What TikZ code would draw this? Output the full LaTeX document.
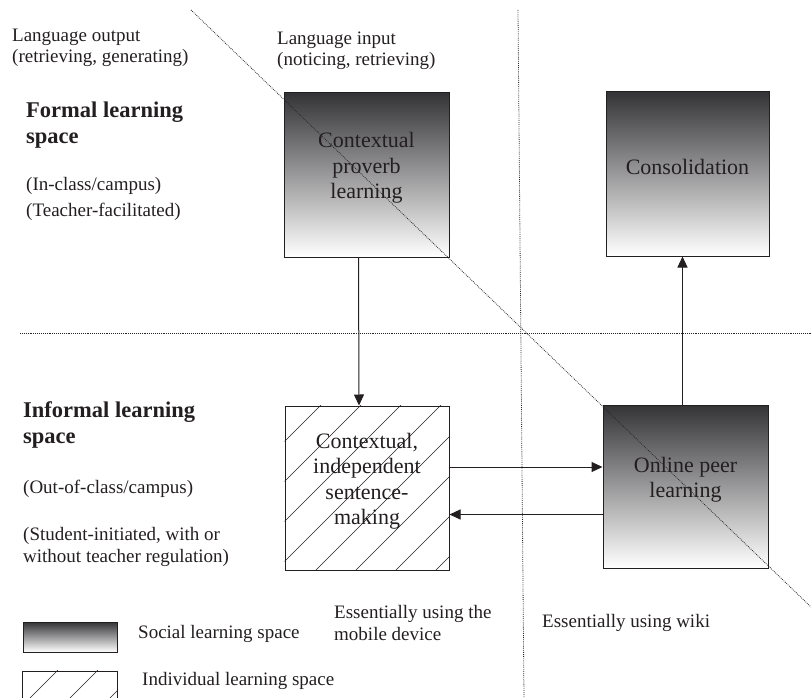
\documentclass[tikz,border=0pt]{standalone}
\usepackage{fontspec}
\setmainfont{Liberation Serif}
\usetikzlibrary{arrows.meta}

\definecolor{gradtop}{RGB}{52,52,55}
\definecolor{inkgray}{RGB}{35,31,32}

\tikzset{
  socialbox/.style={draw=inkgray, line width=1pt, shading=axis, top color=gradtop,
    bottom color=white, minimum width=165pt, minimum height=164pt, inner sep=0pt},
  indbox/.style={draw=inkgray, line width=1pt, fill=white, minimum width=164pt,
    minimum height=164pt, inner sep=0pt},
  boxtext/.style={font=\fontsize{22}{25.5}\selectfont, text=inkgray, align=center, yshift=7pt},
  sidetext/.style={font=\fontsize{19}{21.5}\selectfont, text=inkgray, align=left,
    anchor=base west, inner sep=0pt},
  headtext/.style={font=\fontsize{22.5}{26}\selectfont\bfseries, text=inkgray, align=left,
    anchor=base west, inner sep=0pt},
  guide/.style={dash pattern=on 0.8pt off 1.1pt, line width=0.8pt, black!85},
  hatch/.style={line width=0.6pt, inkgray},
  flow/.style={-{Triangle[length=11pt,width=10pt]}, line width=1pt, inkgray},
}

\begin{document}
\begin{tikzpicture}[x=1pt, y=-1pt]
  \useasboundingbox (0,0) rectangle (811,698);

  % the four learning activities
  \node[socialbox, label={[boxtext]center:{Contextual\\proverb\\learning}}] (proverb) at (366.5,175) {};
  \node[socialbox, minimum width=163pt, label={[boxtext]center:Consolidation}] (consol) at (687.5,174) {};
  \node[indbox] (sentence) at (367,488) {};
  \node[socialbox, minimum height=163pt] (peer) at (685.5,486.5) {};

  % hatching of the individual space
  \begin{scope}
    \clip (sentence.south west) rectangle (sentence.north east);
    \foreach \c in {726,766,...,1046}
      \draw[hatch] (\c-350,350) -- (\c-650,650);
  \end{scope}
  \node[boxtext] (sentencetext) at (sentence.center)
    {Contextual,\\independent\\sentence-\\making};
  \node[boxtext] (peertext) at (peer.center) {Online peer\\learning};

  % legend
  \node[draw=inkgray, line width=1pt, shading=axis, top color=gradtop, bottom color=white,
    minimum width=94pt, minimum height=30pt, inner sep=0pt] (soclegend) at (70,637) {};
  \node[draw=inkgray, line width=1pt, fill=white, minimum width=95pt, minimum height=40pt,
    inner sep=0pt] (indlegend) at (69.5,691) {};
  \begin{scope}
    \clip (indlegend.south west) rectangle (indlegend.north east);
    \foreach \c in {688,728,...,848}
      \draw[hatch] (\c-650,650) -- (\c-720,720);
  \end{scope}
  \node[sidetext] (soctext) at (138,638) {Social learning space};
  \node[sidetext] (indtext) at (142,685) {Individual learning space};

  % dotted guide lines
  \draw[guide] (191,10) -- (811,607);
  \draw[guide] (518,10) -- (524,698);
  \draw[guide] (20,333) -- (811,333);

  % flow between the activities
  \draw[flow] ([xshift=-8pt]proverb.south) -- ([xshift=-8pt]sentence.north);
  \draw[flow] ([yshift=21pt]sentence.east) -- ([yshift=21pt]sentence.east -| peer.west);
  \draw[flow] ([yshift=-28pt]peer.west) -- ([yshift=-28pt]peer.west -| sentence.east);
  \draw[flow] ([xshift=-3pt]peer.north) -- ([xshift=-3pt]peer.north |- consol.south);

  % side texts (a node stands on the baseline of its last line)
  \node[sidetext] (output) at (12,63) {Language output\\(retrieving, generating)};
  \node[sidetext] (input) at (277,66) {Language input\\(noticing, retrieving)};
  \node[headtext] (formal) at (26,143) {Formal learning\\space};
  \node[sidetext] (inclass) at (26,190) {(In-class/campus)};
  \node[sidetext] (teacher) at (26,216) {(Teacher-facilitated)};
  \node[headtext] (informal) at (23,443) {Informal learning\\space};
  \node[sidetext] (outclass) at (23,493) {(Out-of-class/campus)};
  \node[sidetext] (student) at (23,562) {(Student-initiated, with or\\without teacher regulation)};
  \node[sidetext] (mobile) at (334,640) {Essentially using the\\mobile device};
  \node[sidetext] (wiki) at (542,627) {Essentially using wiki};
\end{tikzpicture}
\end{document}
